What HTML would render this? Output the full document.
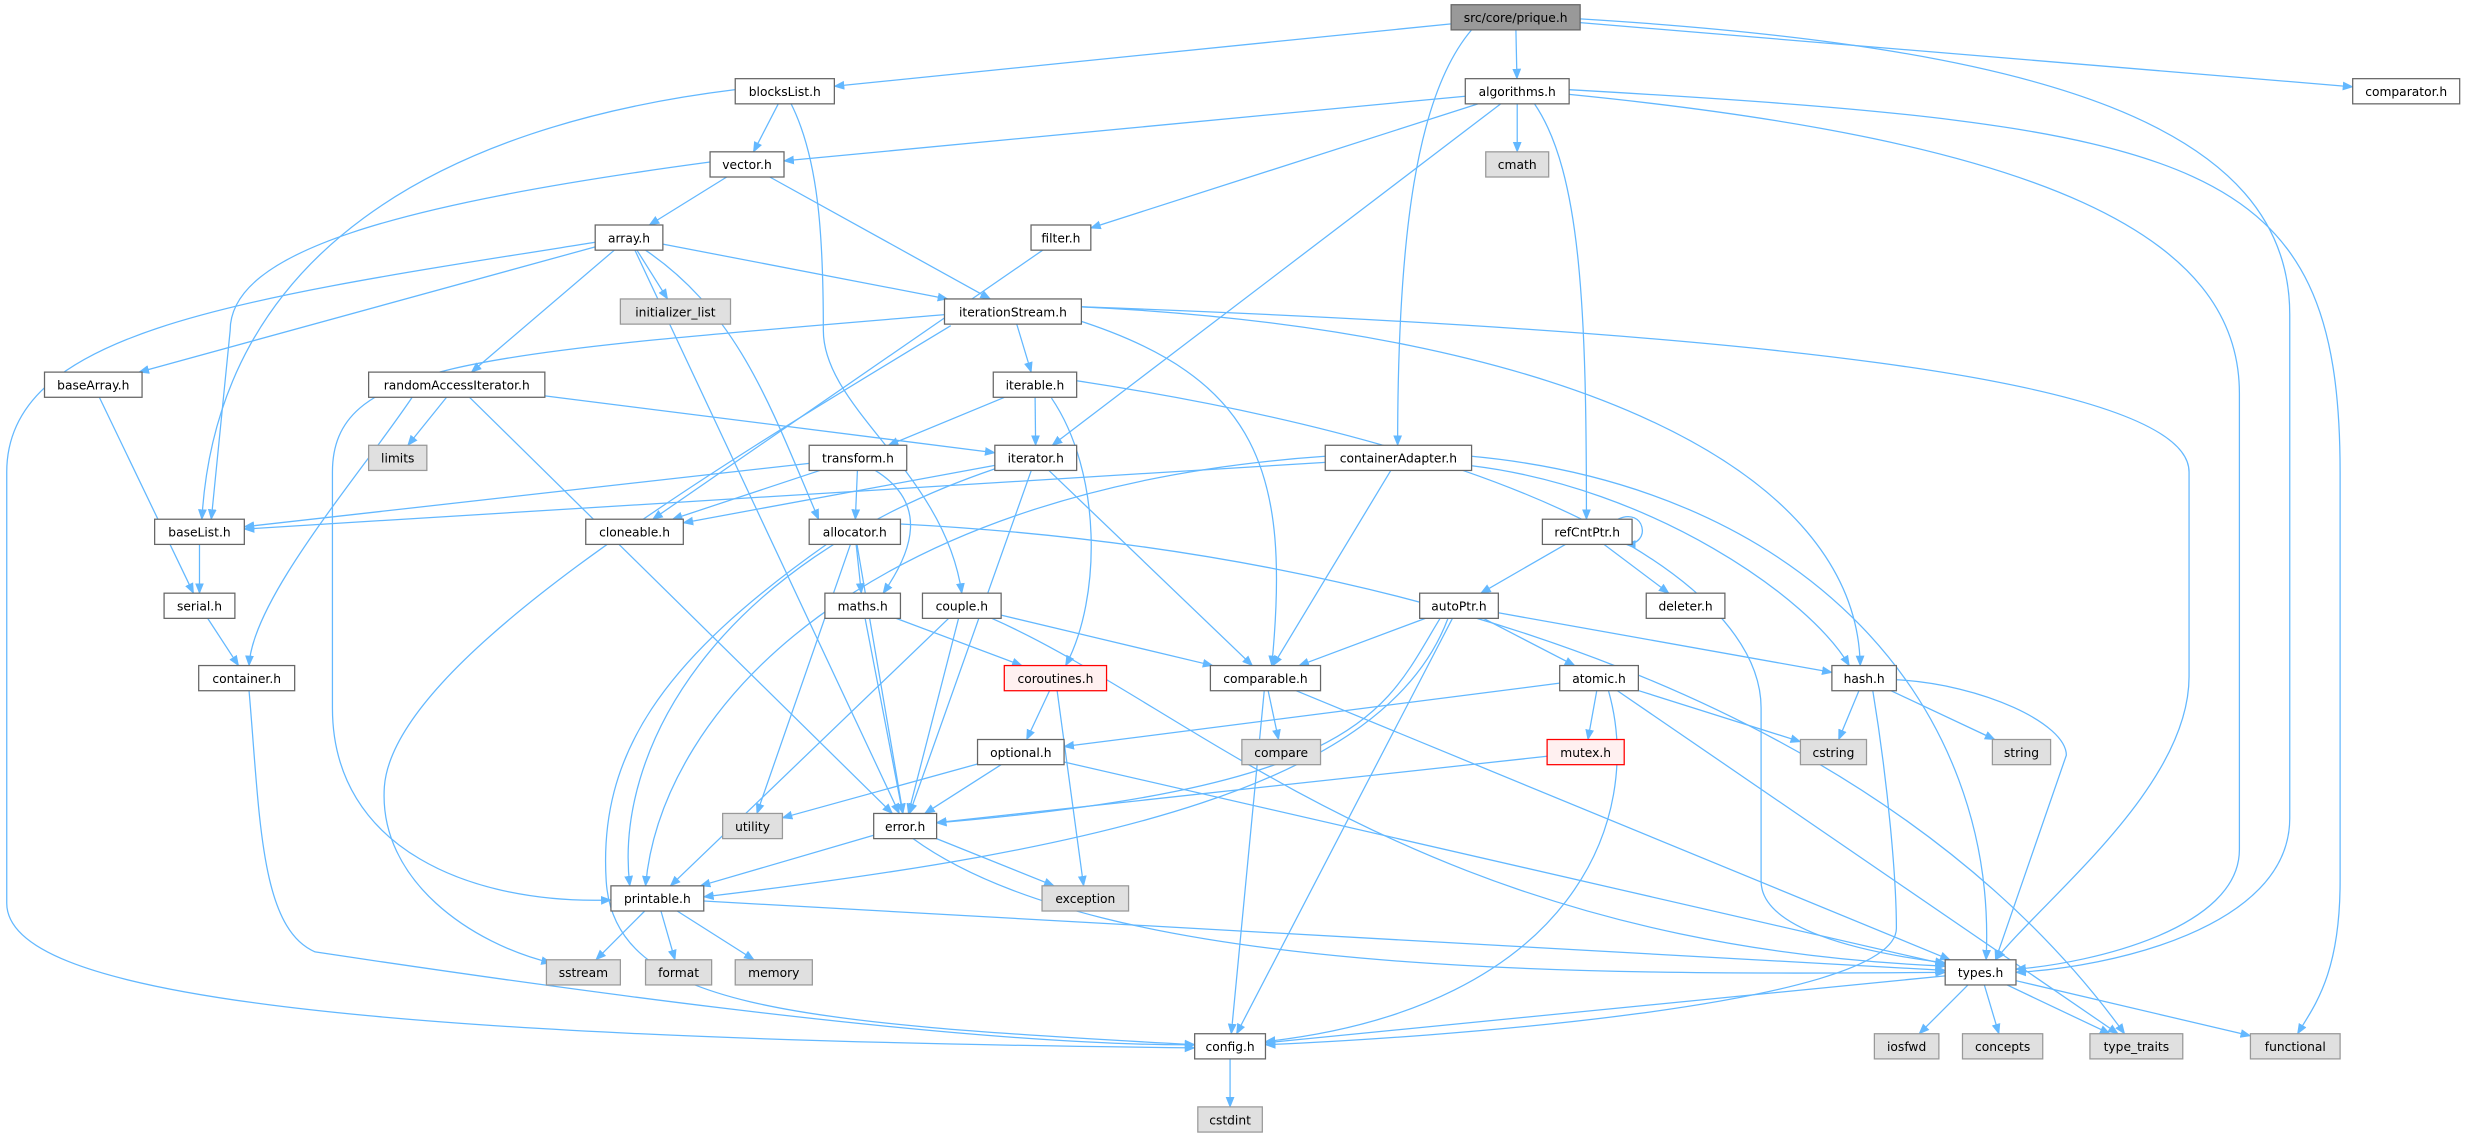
<!DOCTYPE html>
<html><head><meta charset="utf-8"><style>
html,body{margin:0;padding:0;background:#fff;}
svg{display:block;}
text{font-family:"DejaVu Sans","Liberation Sans",sans-serif;font-size:7.8px;fill:#000;text-anchor:middle;dominant-baseline:central;}
</style></head><body>
<svg id="s" width="2468" height="1136" viewBox="0 0 1568 722" xmlns="http://www.w3.org/2000/svg">
<defs><marker id="a" viewBox="0 0 10 10" refX="9" refY="5" markerWidth="7" markerHeight="7" markerUnits="userSpaceOnUse" orient="auto"><path d="M0,1 L10,5 L0,9 z" fill="#63b8ff"/></marker></defs>
<g id="edges" fill="none" stroke="#63b8ff" stroke-width="0.8"></g>
<g id="boxes"></g>
<g id="labels">
<text id="prique">src/core/prique.h</text>
<text id="blocksList">blocksList.h</text>
<text id="algorithms">algorithms.h</text>
<text id="comparator">comparator.h</text>
<text id="vector">vector.h</text>
<text id="cmath">cmath</text>
<text id="array">array.h</text>
<text id="filter">filter.h</text>
<text id="initializer_list">initializer_list</text>
<text id="iterationStream">iterationStream.h</text>
<text id="baseArray">baseArray.h</text>
<text id="randomAccessIterator">randomAccessIterator.h</text>
<text id="iterable">iterable.h</text>
<text id="limits">limits</text>
<text id="transform">transform.h</text>
<text id="iterator">iterator.h</text>
<text id="containerAdapter">containerAdapter.h</text>
<text id="baseList">baseList.h</text>
<text id="cloneable">cloneable.h</text>
<text id="allocator">allocator.h</text>
<text id="refCntPtr">refCntPtr.h</text>
<text id="serial">serial.h</text>
<text id="maths">maths.h</text>
<text id="couple">couple.h</text>
<text id="autoPtr">autoPtr.h</text>
<text id="deleter">deleter.h</text>
<text id="container">container.h</text>
<text id="coroutines">coroutines.h</text>
<text id="comparable">comparable.h</text>
<text id="atomic">atomic.h</text>
<text id="hash">hash.h</text>
<text id="optional">optional.h</text>
<text id="compare">compare</text>
<text id="mutex">mutex.h</text>
<text id="cstring">cstring</text>
<text id="string">string</text>
<text id="utility">utility</text>
<text id="error">error.h</text>
<text id="printable">printable.h</text>
<text id="exception">exception</text>
<text id="sstream">sstream</text>
<text id="format">format</text>
<text id="memory">memory</text>
<text id="types">types.h</text>
<text id="config">config.h</text>
<text id="iosfwd">iosfwd</text>
<text id="concepts">concepts</text>
<text id="type_traits">type_traits</text>
<text id="functional">functional</text>
<text id="cstdint">cstdint</text>
</g>
</svg>
<script>
var R=[3,50,96.5,143,190,236.5,283,330,377,423,470,517,563,610,657,703.5];
var N={
prique:[922,1004,0,'p'],blocksList:[467,530,1],algorithms:[931,997,1],comparator:[1495,1563,1],
vector:[451,498,2],cmath:[944,984,2,'g'],array:[378,421,3],filter:[655,693,3],
initializer_list:[394,464,4,'g'],iterationStream:[600,687,4],
baseArray:[28,90,5],randomAccessIterator:[234,346,5],iterable:[631,684,5],
limits:[234,271,6,'g'],transform:[514,576,6],iterator:[632,684,6],containerAdapter:[842,935,6],
baseList:[98,155,7],cloneable:[372,434,7],allocator:[514,572,7],refCntPtr:[980,1037,7],
serial:[104,149,8],maths:[524,572,8],couple:[586,636,8],autoPtr:[902,952,8],deleter:[1046,1096,8],
container:[126,187,9],coroutines:[638,703,9,'r'],comparable:[769,839,9],atomic:[991,1041,9],hash:[1164,1205,9],
optional:[621,676,10],compare:[789,839,10,'g'],mutex:[983,1032,10,'r'],cstring:[1144,1186,10,'g'],string:[1266,1303,10,'g'],
utility:[459,497,11,'g'],error:[555,595,11],printable:[388,447,12],exception:[662,717,12,'g'],
sstream:[347,394,13,'g'],format:[410,452,13,'g'],memory:[467,516,13,'g'],types:[1236,1281,13],
config:[759,804,14],iosfwd:[1191,1232,14,'g'],concepts:[1247,1298,14,'g'],type_traits:[1328,1387,14,'g'],functional:[1430,1487,14,'g'],
cstdint:[761,802,15,'g']};
var NS='http://www.w3.org/2000/svg';
function el(t,a,p){var e=document.createElementNS(NS,t);for(var k in a)e.setAttribute(k,a[k]);p.appendChild(e);return e;}
var B=document.getElementById('boxes'),E=document.getElementById('edges');
function box(id){var n=N[id];return {x1:n[0],x2:n[1],y1:R[n[2]],y2:R[n[2]]+16,cx:(n[0]+n[1])/2,cy:R[n[2]]+8};}
for(var id in N){var b=box(id),t=N[id][3];
var f='#fff',s='#666';if(t=='g'){f='#e0e0e0';s='#999';}if(t=='p'){f='#999';s='#666';}if(t=='r'){s='#ff0000';f='#fff0f0';}
el('rect',{x:b.x1,y:b.y1,width:b.x2-b.x1,height:16,fill:f,stroke:s,'stroke-width':0.8},B);
var tx=document.getElementById(id);tx.setAttribute('x',b.cx);tx.setAttribute('y',b.cy+0.5);}
function clip(b,px,py){var dx=px-b.cx,dy=py-b.cy;if(dx==0&&dy==0)return [b.cx,b.cy];
var hw=(b.x2-b.x1)/2,hh=8;var s=Math.min(dx?hw/Math.abs(dx):1e9,dy?hh/Math.abs(dy):1e9);return [b.cx+dx*s,b.cy+dy*s];}
var S=[['prique','blocksList'],['prique','algorithms'],['prique','comparator'],
['blocksList','vector'],['algorithms','vector'],['algorithms','cmath'],['algorithms','filter'],['algorithms','iterator'],
['vector','array'],['vector','iterationStream'],['filter','cloneable'],
['array','initializer_list'],['array','iterationStream'],['array','baseArray'],['array','randomAccessIterator'],['array','error'],
['iterationStream','iterable'],['baseArray','serial'],
['randomAccessIterator','limits'],['randomAccessIterator','iterator'],['randomAccessIterator','error'],
['iterable','transform'],['iterable','iterator'],
['transform','baseList'],['transform','cloneable'],['transform','allocator'],
['iterator','cloneable'],['iterator','comparable'],['iterator','error'],
['containerAdapter','baseList'],['containerAdapter','comparable'],
['baseList','serial'],['serial','container'],['allocator','maths'],['allocator','error'],['allocator','utility'],
['refCntPtr','autoPtr'],['refCntPtr','deleter'],['maths','coroutines'],['maths','error'],
['couple','comparable'],['couple','error'],['couple','printable'],
['autoPtr','comparable'],['autoPtr','atomic'],['autoPtr','hash'],['autoPtr','config'],
['coroutines','optional'],['coroutines','exception'],['comparable','compare'],['comparable','config'],['comparable','types'],
['atomic','optional'],['atomic','mutex'],['atomic','cstring'],['atomic','type_traits'],
['hash','cstring'],['hash','string'],['optional','utility'],['optional','error'],['optional','types'],['mutex','error'],
['error','printable'],['error','exception'],['printable','sstream'],['printable','format'],['printable','memory'],['printable','types'],
['types','config'],['types','iosfwd'],['types','concepts'],['types','type_traits'],['types','functional'],['config','cstdint']];
S.forEach(function(e){var a=box(e[0]),b=box(e[1]);var p=clip(a,b.cx,b.cy),q=clip(b,a.cx,a.cy);
el('path',{d:'M'+p[0]+','+p[1]+' L'+q[0]+','+q[1],'marker-end':'url(#a)'},E);});
var C=[
'M935,19 C900,60 888,150 888,283',
'M1004,12 C1300,30 1455,80 1455,200 L1455,520 C1455,590 1340,615 1281,618',
'M997,60 C1300,90 1423,150 1423,250 L1423,540 C1423,590 1330,612 1281,616',
'M997,57 C1400,80 1487,100 1487,300 L1487,560 C1487,620 1470,640 1460,657',
'M975,66 C1005,110 1008,200 1008,330',
'M467,57 C280,80 138,160 128,330',
'M451,103 C250,130 146,160 146,210 L134,330',
'M502,65 C520,100 523,150 523,210 C523,260 600,300 611,377',
'M378,154 C150,190 4,210 4,300 L4,574 C4,630 200,660 759,666',
'M158,439 C165,520 165,590 200,605 C300,620 600,665 759,664',
'M600,200 C300,225 211,230 211,300 L211,450 C211,540 300,575 388,572',
'M604,207 C450,300 250,420 244,500 C240,560 300,600 350,612',
'M687,195 C1100,210 1391,240 1391,300 L1391,430 C1391,500 1300,570 1268,610',
'M687,195 C1000,210 1180,300 1182,423',
'M683,203 C800,240 820,300 808,423',
'M668,253 C700,300 700,380 677,423',
'M684,242 C1000,290 1119,380 1119,450 L1119,560 C1119,590 1180,605 1236,612',
'M572,333 C900,350 1200,450 1350,657',
'M525,346 C420,420 380,480 385,560 C390,640 500,650 759,664',
'M1190,439 C1200,500 1205,560 1205,590 C1205,640 900,660 804,664',
'M1022,439 C1045,520 1000,640 804,662',
'M580,533 C700,620 1000,620 1236,618',
'M842,290 C550,310 420,450 410,563',
'M632,298 C450,360 390,480 400,563',
'M1205,432 C1260,435 1313,460 1313,480 L1268,610',
'M935,290 C1150,310 1270,450 1262,610',
'M935,296 C1050,310 1150,380 1175,423',
'M1028,330 C1045,322 1050,346 1033,346',
'M556,299 C590,320 580,350 561,377',
'M915,393 C880,450 870,500 595,523',
'M262,252 C230,300 160,380 158,423',
'M410,159 C470,200 490,260 520,330',
'M630,393 C760,450 900,600 1236,614',
'M920,393 C880,500 700,540 447,570'];
C.forEach(function(d){el('path',{d:d,'marker-end':'url(#a)'},E);});
</script>
</body></html>
